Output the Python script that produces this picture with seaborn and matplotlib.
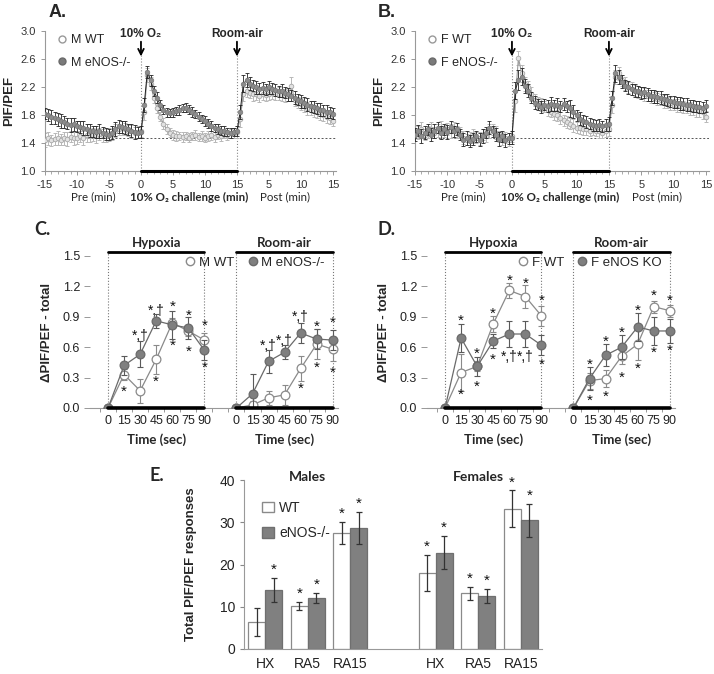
import numpy as np
import pandas as pd
import seaborn as sns
import matplotlib.pyplot as plt
from matplotlib.lines import Line2D
from matplotlib.patches import Patch

sns.set_style("ticks")
plt.rcParams['font.family'] = ['Liberation Sans', 'DejaVu Sans']

# ---------------- A / B : PIF/PEF time course (one value every 30 s) ----------------
minutes = np.arange(-15, 30.01, 0.5)   # -15..0 pre, 0..15 hypoxia, 15..30 room-air

m_wt = [1.45, 1.47, 1.44, 1.46, 1.48, 1.45, 1.47, 1.46, 1.49, 1.47,
        1.48, 1.50, 1.48, 1.51, 1.50, 1.52, 1.50, 1.53, 1.51, 1.50,
        1.52, 1.55, 1.58, 1.60, 1.62, 1.60, 1.58, 1.57, 1.55, 1.56, 1.57,
        1.85, 2.38, 2.25, 2.05, 1.90, 1.78, 1.68, 1.60, 1.55, 1.52,
        1.50, 1.50, 1.49, 1.50, 1.48, 1.50, 1.52, 1.49, 1.50, 1.48,
        1.50, 1.51, 1.49, 1.52, 1.50, 1.53, 1.52, 1.54, 1.55, 1.56,
        1.75, 2.10, 2.15, 2.12, 2.10, 2.10, 2.08, 2.10, 2.09, 2.10,
        2.12, 2.10, 2.11, 2.09, 2.08, 2.08, 2.22, 2.02, 1.98, 1.96,
        1.93, 1.90, 1.88, 1.86, 1.84, 1.82, 1.80, 1.78, 1.76, 1.72]
m_wt_err = [0.10, 0.09, 0.08, 0.09, 0.10, 0.08, 0.09, 0.10, 0.08, 0.09,
            0.09, 0.08, 0.10, 0.09, 0.08, 0.09, 0.10, 0.08, 0.09, 0.08,
            0.09, 0.10, 0.09, 0.08, 0.10, 0.09, 0.08, 0.09, 0.08, 0.09, 0.08,
            0.12, 0.10, 0.09, 0.08, 0.07, 0.07, 0.08, 0.07, 0.06, 0.07,
            0.07, 0.06, 0.07, 0.06, 0.07, 0.06, 0.07, 0.06, 0.07, 0.06,
            0.07, 0.06, 0.07, 0.06, 0.07, 0.06, 0.07, 0.06, 0.07, 0.08,
            0.12, 0.10, 0.09, 0.08, 0.09, 0.08, 0.09, 0.08, 0.09, 0.08,
            0.09, 0.08, 0.09, 0.08, 0.09, 0.08, 0.12, 0.09, 0.08, 0.09,
            0.08, 0.09, 0.08, 0.09, 0.08, 0.09, 0.08, 0.09, 0.08, 0.07]
m_ko = [1.82, 1.80, 1.78, 1.76, 1.74, 1.72, 1.70, 1.68, 1.66, 1.67,
        1.64, 1.63, 1.62, 1.60, 1.58, 1.57, 1.56, 1.58, 1.55, 1.53,
        1.52, 1.55, 1.60, 1.64, 1.63, 1.62, 1.60, 1.58, 1.56, 1.55, 1.56,
        1.95, 2.42, 2.30, 2.15, 2.05, 1.95, 1.88, 1.84, 1.83, 1.84,
        1.86, 1.88, 1.90, 1.91, 1.88, 1.85, 1.82, 1.78, 1.75, 1.72,
        1.68, 1.65, 1.62, 1.60, 1.58, 1.57, 1.56, 1.55, 1.56, 1.57,
        1.85, 2.25, 2.30, 2.25, 2.22, 2.20, 2.18, 2.19, 2.17, 2.20,
        2.18, 2.16, 2.14, 2.15, 2.12, 2.10, 2.08, 2.05, 2.02, 2.00,
        1.98, 1.95, 1.93, 1.92, 1.90, 1.88, 1.87, 1.85, 1.84, 1.82]
m_ko_err = [0.08, 0.09, 0.10, 0.08, 0.09, 0.10, 0.09, 0.08, 0.10, 0.09,
            0.08, 0.09, 0.10, 0.08, 0.09, 0.08, 0.09, 0.10, 0.08, 0.09,
            0.08, 0.09, 0.10, 0.09, 0.08, 0.09, 0.08, 0.09, 0.10, 0.08, 0.09,
            0.10, 0.09, 0.08, 0.07, 0.08, 0.07, 0.06, 0.07, 0.06, 0.07,
            0.06, 0.07, 0.06, 0.07, 0.06, 0.07, 0.06, 0.07, 0.06, 0.07,
            0.06, 0.07, 0.06, 0.07, 0.06, 0.07, 0.06, 0.07, 0.06, 0.07,
            0.10, 0.12, 0.10, 0.09, 0.08, 0.09, 0.08, 0.09, 0.08, 0.09,
            0.08, 0.09, 0.08, 0.09, 0.08, 0.09, 0.08, 0.09, 0.08, 0.09,
            0.08, 0.09, 0.08, 0.09, 0.08, 0.09, 0.08, 0.09, 0.08, 0.08]

f_wt = [1.58, 1.55, 1.60, 1.52, 1.56, 1.60, 1.55, 1.58, 1.62, 1.57,
        1.60, 1.58, 1.62, 1.56, 1.55, 1.48, 1.45, 1.47, 1.50, 1.48,
        1.47, 1.52, 1.50, 1.58, 1.60, 1.55, 1.50, 1.46, 1.48, 1.45, 1.50,
        2.00, 2.62, 2.40, 2.25, 2.20, 2.10, 2.02, 1.98, 1.95, 1.92,
        1.88, 1.85, 1.82, 1.80, 1.76, 1.73, 1.70, 1.68, 1.65, 1.62,
        1.62, 1.60, 1.60, 1.58, 1.60, 1.58, 1.57, 1.55, 1.58, 1.60,
        1.95, 2.35, 2.40, 2.30, 2.25, 2.20, 2.18, 2.15, 2.13, 2.12,
        2.10, 2.08, 2.07, 2.05, 2.03, 2.02, 2.00, 1.98, 1.97, 1.95,
        1.94, 1.93, 1.92, 1.91, 1.90, 1.88, 1.87, 1.86, 1.84, 1.78]
f_wt_err = [0.08, 0.09, 0.10, 0.08, 0.09, 0.10, 0.08, 0.09, 0.10, 0.08,
            0.09, 0.10, 0.08, 0.09, 0.08, 0.09, 0.08, 0.09, 0.10, 0.08,
            0.09, 0.08, 0.09, 0.10, 0.08, 0.09, 0.08, 0.09, 0.08, 0.09, 0.08,
            0.15, 0.10, 0.12, 0.10, 0.09, 0.10, 0.09, 0.08, 0.09, 0.08,
            0.09, 0.08, 0.09, 0.08, 0.09, 0.08, 0.09, 0.08, 0.09, 0.08,
            0.09, 0.08, 0.09, 0.08, 0.09, 0.08, 0.09, 0.08, 0.09, 0.10,
            0.12, 0.10, 0.09, 0.08, 0.09, 0.08, 0.09, 0.08, 0.09, 0.08,
            0.09, 0.08, 0.09, 0.08, 0.09, 0.08, 0.09, 0.08, 0.09, 0.08,
            0.09, 0.08, 0.09, 0.08, 0.09, 0.08, 0.09, 0.08, 0.09, 0.08]
f_ko = [1.52, 1.58, 1.50, 1.55, 1.60, 1.52, 1.58, 1.62, 1.55, 1.60,
        1.56, 1.63, 1.57, 1.60, 1.52, 1.45, 1.48, 1.43, 1.46, 1.50,
        1.45, 1.50, 1.55, 1.62, 1.57, 1.52, 1.46, 1.50, 1.44, 1.47, 1.48,
        2.15, 2.30, 2.35, 2.22, 2.15, 2.05, 1.98, 1.95, 1.92, 1.95,
        1.93, 1.96, 1.94, 1.95, 1.92, 1.96, 1.93, 1.90, 1.85, 1.80,
        1.75, 1.72, 1.70, 1.68, 1.66, 1.65, 1.66, 1.64, 1.66, 1.68,
        2.05, 2.40, 2.35, 2.28, 2.22, 2.20, 2.17, 2.15, 2.14, 2.12,
        2.13, 2.10, 2.08, 2.07, 2.06, 2.05, 2.03, 2.02, 2.00, 1.99,
        1.98, 1.97, 1.96, 1.95, 1.94, 1.93, 1.92, 1.92, 1.91, 1.93]
f_ko_err = [0.09, 0.08, 0.10, 0.09, 0.08, 0.09, 0.10, 0.08, 0.09, 0.08,
            0.10, 0.09, 0.08, 0.09, 0.08, 0.09, 0.10, 0.08, 0.09, 0.08,
            0.09, 0.10, 0.08, 0.09, 0.08, 0.09, 0.10, 0.08, 0.09, 0.08, 0.09,
            0.12, 0.14, 0.12, 0.10, 0.09, 0.08, 0.09, 0.08, 0.09, 0.08,
            0.09, 0.10, 0.08, 0.09, 0.08, 0.09, 0.08, 0.12, 0.09, 0.08,
            0.09, 0.08, 0.09, 0.08, 0.09, 0.08, 0.09, 0.08, 0.09, 0.10,
            0.10, 0.12, 0.10, 0.09, 0.08, 0.09, 0.08, 0.09, 0.08, 0.09,
            0.08, 0.09, 0.08, 0.09, 0.08, 0.09, 0.08, 0.09, 0.08, 0.09,
            0.08, 0.09, 0.08, 0.09, 0.08, 0.09, 0.08, 0.09, 0.08, 0.09]

trace_ticks = ['-15', '-10', '-5', '0', '5', '10', '15', '5', '10', '15']

# ---------------- C / D : delta PIF/PEF over first 90 s ----------------
seconds = [0, 15, 30, 45, 60, 75, 90]

c_hx_wt = [0.0, 0.33, 0.17, 0.48, 0.84, 0.76, 0.67]
c_hx_wt_err = [0.0, 0.05, 0.12, 0.14, 0.05, 0.05, 0.07]
c_hx_ko = [0.0, 0.42, 0.53, 0.86, 0.82, 0.79, 0.57]
c_hx_ko_err = [0.0, 0.09, 0.13, 0.07, 0.14, 0.11, 0.10]
c_ra_wt = [0.0, 0.03, 0.10, 0.13, 0.39, 0.63, 0.58]
c_ra_wt_err = [0.0, 0.04, 0.07, 0.10, 0.12, 0.15, 0.12]
c_ra_ko = [0.0, 0.14, 0.46, 0.55, 0.74, 0.68, 0.67]
c_ra_ko_err = [0.0, 0.20, 0.11, 0.07, 0.10, 0.10, 0.10]
# (section, time in s, y, text)
c_marks = [('hx', 15, 0.20, '*'), ('hx', 30, 0.75, '*,†'), ('hx', 45, 1.00, '*,†'),
           ('hx', 45, 0.30, '*'), ('hx', 60, 1.04, '*'), ('hx', 60, 0.65, '*'),
           ('hx', 75, 0.95, '*'), ('hx', 75, 0.59, '*'), ('hx', 90, 0.85, '*'),
           ('hx', 90, 0.44, '*'), ('ra', 30, 0.65, '*,†'), ('ra', 45, 0.70, '*,†'),
           ('ra', 60, 0.94, '*,†'), ('ra', 60, 0.23, '*'), ('ra', 75, 0.84, '*'),
           ('ra', 75, 0.44, '*'), ('ra', 90, 0.88, '*'), ('ra', 90, 0.39, '*')]

d_hx_wt = [0.0, 0.35, 0.41, 0.83, 1.16, 1.10, 0.91]
d_hx_wt_err = [0.0, 0.18, 0.05, 0.08, 0.07, 0.11, 0.10]
d_hx_ko = [0.0, 0.69, 0.41, 0.66, 0.73, 0.73, 0.62]
d_hx_ko_err = [0.0, 0.14, 0.09, 0.07, 0.13, 0.13, 0.10]
d_ra_wt = [0.0, 0.27, 0.29, 0.51, 0.63, 1.00, 0.96]
d_ra_wt_err = [0.0, 0.08, 0.08, 0.08, 0.16, 0.06, 0.06]
d_ra_ko = [0.0, 0.29, 0.52, 0.60, 0.80, 0.76, 0.76]
d_ra_ko_err = [0.0, 0.11, 0.11, 0.12, 0.14, 0.14, 0.12]
d_marks = [('hx', 15, 0.90, '*'), ('hx', 15, 0.17, '*'), ('hx', 30, 0.57, '*'),
           ('hx', 30, 0.25, '*'), ('hx', 45, 0.97, '*'), ('hx', 45, 0.52, '*'),
           ('hx', 60, 1.30, '*'), ('hx', 60, 0.54, '*,†'), ('hx', 75, 1.27, '*'),
           ('hx', 75, 0.54, '*,†'), ('hx', 90, 1.10, '*'), ('hx', 90, 0.47, '*'),
           ('ra', 15, 0.47, '*'), ('ra', 15, 0.11, '*'), ('ra', 30, 0.69, '*'),
           ('ra', 30, 0.15, '*'), ('ra', 45, 0.78, '*'), ('ra', 45, 0.34, '*'),
           ('ra', 60, 1.00, '*'), ('ra', 60, 0.43, '*'), ('ra', 75, 1.15, '*'),
           ('ra', 75, 0.58, '*'), ('ra', 90, 1.10, '*'), ('ra', 90, 0.60, '*')]

# ---------------- E : total responses ----------------
phases = ['HX', 'RA5', 'RA15']
male_wt = [6.4, 10.2, 27.5]
male_wt_err = [3.4, 0.9, 2.65]
male_ko = [14.0, 12.1, 28.6]
male_ko_err = [2.8, 1.15, 3.85]
female_wt = [18.0, 13.2, 33.2]
female_wt_err = [4.3, 1.55, 4.35]
female_ko = [22.8, 12.5, 30.5]
female_ko_err = [3.95, 1.65, 3.9]
male_wt_star = ['', '*', '*']
male_ko_star = ['*', '*', '*']
female_wt_star = ['*', '*', '*']
female_ko_star = ['*', '*', '*']

CAL = ['Lato', 'DejaVu Sans']

fig = plt.figure(figsize=(7.14, 6.74), dpi=100)


def trace_panel(rect, wt, wt_err, ko, ko_err, names):
    ax = fig.add_axes(rect)
    ax.errorbar(minutes, wt, yerr=wt_err, fmt='none', ecolor='#b8b8b8',
                elinewidth=0.7, capsize=1.5, capthick=0.7, zorder=2)
    sns.lineplot(x=minutes, y=wt, ax=ax, estimator=None, color='#9a9a9a', lw=0.8,
                 marker='o', markersize=3.3, markerfacecolor='#e2e2e2',
                 markeredgecolor='#a8a8a8', markeredgewidth=0.6, zorder=3)
    ax.errorbar(minutes, ko, yerr=ko_err, fmt='none', ecolor='#222222',
                elinewidth=0.6, capsize=1.5, capthick=0.6, zorder=4)
    sns.lineplot(x=minutes, y=ko, ax=ax, estimator=None, color='#222222', lw=0.7,
                 marker='o', markersize=3.3, markerfacecolor='#8c8c8c',
                 markeredgecolor='#777777', markeredgewidth=0.5, zorder=5)
    ax.set_xlim(-15, 30.5)
    ax.set_ylim(1.0, 3.0)
    ax.set_yticks([1.0, 1.4, 1.8, 2.2, 2.6, 3.0])
    ax.set_yticklabels(['1.0', '1.4', '1.8', '2.2', '2.6', '3.0'])
    ax.set_xticks(range(-15, 31, 5))
    ax.set_xticklabels(trace_ticks)
    ax.set_xticks(range(-15, 31), minor=True)
    ax.tick_params(labelsize=8, colors='#333333', length=3, width=0.6)
    ax.tick_params(axis='x', which='minor', length=2, width=0.5, color='#888888')
    ax.tick_params(axis='both', which='major', color='#888888')
    sns.despine(ax=ax)
    for s in ['left', 'bottom']:
        ax.spines[s].set_color('#999999')
        ax.spines[s].set_linewidth(0.8)
    ax.plot([-15, 30.5], [1.48, 1.48], ls=(0, (2, 2)), color='#555555', lw=0.7, zorder=1)
    for x in (0, 15):
        ax.plot([x, x], [1.0, 2.66], ls=':', color='#888888', lw=0.8, zorder=1)
    ax.plot([0, 15], [1.0, 1.0], color='black', lw=2.2, clip_on=False, zorder=6)
    for x, txt in ((0, '10% O₂'), (15, 'Room-air')):
        ax.annotate('', xy=(x, 2.6), xytext=(x, 2.89),
                    arrowprops=dict(arrowstyle='->', color='black', lw=1.3))
        ax.text(x, 2.96, txt, ha='center', va='center', fontsize=8.5,
                fontweight='bold')
    ax.set_ylabel('PIF/PEF', fontsize=9.5, fontweight='bold')
    ax.yaxis.set_label_coords(-0.103, 0.5)
    for x, txt, bold in ((-7.5, 'Pre (min)', False), (7.5, '10% O₂ challenge (min)', True),
                         (22.5, 'Post (min)', False)):
        ax.annotate(txt, xy=(x, 0), xycoords=('data', 'axes fraction'),
                    xytext=(0, -26), textcoords='offset pixels', ha='center',
                    va='center', fontsize=8.3, family=CAL,
                    fontweight='bold' if bold else 'normal')
    handles = [Line2D([], [], ls='none', marker='o', ms=5, mfc='white', mec='#999999'),
               Line2D([], [], ls='none', marker='o', ms=5, mfc='#7a7a7a', mec='#6a6a6a')]
    ax.legend(handles, names, loc='upper left', bbox_to_anchor=(0.0, 1.06),
              frameon=False, fontsize=9, handlelength=0.9, handletextpad=0.3,
              labelspacing=0.85)
    return ax


def delta_panel(rect, hx_wt, hx_wt_err, hx_ko, hx_ko_err,
                ra_wt, ra_wt_err, ra_ko, ra_ko_err, marks, names):
    ax = fig.add_axes(rect)
    offset = {'hx': 0, 'ra': 8}
    rows = []
    for sec_name, geno, vals, errs in (('hx', 'WT', hx_wt, hx_wt_err), ('hx', 'KO', hx_ko, hx_ko_err),
                                       ('ra', 'WT', ra_wt, ra_wt_err), ('ra', 'KO', ra_ko, ra_ko_err)):
        for s, v, e in zip(seconds, vals, errs):
            rows.append({'pos': s / 15 + offset[sec_name], 'val': v, 'err': e,
                         'section': sec_name, 'geno': geno})
    df = pd.DataFrame(rows)
    style = {'WT': dict(color='#8a8a8a', markerfacecolor='white', markeredgecolor='#8a8a8a', ecolor='#8a8a8a'),
             'KO': dict(color='#6a6a6a', markerfacecolor='#7f7f7f', markeredgecolor='#6a6a6a', ecolor='#5a5a5a')}
    for z, geno in enumerate(['WT', 'KO']):
        sub = df[df['geno'] == geno]
        st = style[geno]
        ax.errorbar(sub['pos'], sub['val'], yerr=sub['err'], fmt='none', ecolor=st['ecolor'],
                    elinewidth=0.8, capsize=2, capthick=0.8, zorder=2 + 2 * z)
        sns.lineplot(data=sub, x='pos', y='val', units='section', estimator=None, ax=ax,
                     color=st['color'], lw=0.9, marker='o', markersize=6.3,
                     markerfacecolor=st['markerfacecolor'],
                     markeredgecolor=st['markeredgecolor'], markeredgewidth=0.9,
                     zorder=3 + 2 * z)
    ax.set_xlim(-1.1, 14.3)
    ax.set_ylim(0, 1.5)
    ax.set_yticks([0, 0.3, 0.6, 0.9, 1.2, 1.5])
    ax.set_yticklabels(['0.0', '0.3', '0.6', '0.9', '1.2', '1.5'])
    pos = [s / 15 for s in seconds] + [s / 15 + 8 for s in seconds]
    ax.set_xticks(pos)
    ax.set_xticklabels([str(s) for s in seconds] * 2)
    ax.set_xticks([k + 0.5 for k in range(-1, 14)], minor=True)
    ax.tick_params(axis='x', which='major', length=0, labelsize=9, pad=5, colors='#222222')
    ax.tick_params(axis='x', which='minor', length=3, width=0.6, color='#888888')
    ax.tick_params(axis='y', labelsize=9, length=4, width=0.6, color='#888888', colors='#222222')
    sns.despine(ax=ax, left=True)
    ax.spines['bottom'].set_color('#999999')
    ax.spines['bottom'].set_linewidth(0.8)
    ax.set_xlabel('')
    ax.set_ylabel('ΔPIF/PEF - total', fontsize=9.5, fontweight='bold')
    ax.yaxis.set_label_coords(-0.15, 0.5)
    for start, title in ((0, 'Hypoxia'), (8, 'Room-air')):
        ax.plot([start, start + 6], [0, 0], color='black', lw=2.6, clip_on=False, zorder=6)
        ax.plot([start, start + 6], [1.54, 1.54], color='black', lw=2.0, clip_on=False)
        for x in (start, start + 6):
            ax.plot([x, x], [0, 1.54], ls=':', color='#777777', lw=0.8, clip_on=False, zorder=1)
        ax.text(start + 3, 1.63, title, ha='center', va='center', fontsize=9.5,
                fontweight='bold', family=CAL)
        ax.annotate('Time (sec)', xy=(start + 3, 0), xycoords=('data', 'axes fraction'),
                    xytext=(0, -32), textcoords='offset pixels', ha='center', va='center',
                    fontsize=9.5, fontweight='bold', family=CAL)
    for sec_name, s, y, txt in marks:
        ax.text(s / 15 + offset[sec_name], y - 0.04, txt, ha='center', va='center',
                fontsize=11 if txt == '*' else 10, color='#111111')
    handles = [Line2D([], [], ls='none', marker='o', ms=6, mfc='white', mec='#8a8a8a'),
               Line2D([], [], ls='none', marker='o', ms=6, mfc='#7f7f7f', mec='#6a6a6a')]
    ax.legend(handles, names, ncol=2, loc='center right', bbox_to_anchor=(0.985, 0.955),
              frameon=False, fontsize=9.5, handlelength=0.8, handletextpad=0.25,
              columnspacing=1.0, borderpad=0.2)
    return ax


trace_panel([0.063, 0.746, 0.4078, 0.2077], m_wt, m_wt_err, m_ko, m_ko_err,
            ['M WT', 'M eNOS-/-'])
trace_panel([0.5812, 0.746, 0.412, 0.2077], f_wt, f_wt_err, f_ko, f_ko_err,
            ['F WT', 'F eNOS-/-'])
delta_panel([0.1266, 0.3947, 0.3462, 0.2255], c_hx_wt, c_hx_wt_err, c_hx_ko, c_hx_ko_err,
            c_ra_wt, c_ra_wt_err, c_ra_ko, c_ra_ko_err, c_marks, ['M WT', 'M eNOS-/-'])
delta_panel([0.5986, 0.3947, 0.3462, 0.2255], d_hx_wt, d_hx_wt_err, d_hx_ko, d_hx_ko_err,
            d_ra_wt, d_ra_wt_err, d_ra_ko, d_ra_ko_err, d_marks, ['F WT', 'F eNOS KO'])

# ---- E: grouped bars (blank slot between males and females) ----
axe = fig.add_axes([0.3417, 0.0371, 0.4174, 0.2507])
order = ['M HX', 'M RA5', 'M RA15', ' ', 'F HX', 'F RA5', 'F RA15']
rows = []
for sex, wt, wte, ko, koe, ws, ks in (('M', male_wt, male_wt_err, male_ko, male_ko_err, male_wt_star, male_ko_star),
                                      ('F', female_wt, female_wt_err, female_ko, female_ko_err, female_wt_star, female_ko_star)):
    for p, a, ae, b, be, sa, sb in zip(phases, wt, wte, ko, koe, ws, ks):
        rows.append({'group': f'{sex} {p}', 'geno': 'WT', 'val': a, 'err': ae, 'star': sa})
        rows.append({'group': f'{sex} {p}', 'geno': 'eNOS-/-', 'val': b, 'err': be, 'star': sb})
df_e = pd.DataFrame(rows)
sns.barplot(data=df_e, x='group', y='val', hue='geno', order=order,
            hue_order=['WT', 'eNOS-/-'], palette={'WT': 'white', 'eNOS-/-': '#808080'},
            errorbar=None, width=0.8, linewidth=0.9, edgecolor='#8a8a8a', legend=False, ax=axe)
for patch in axe.containers[1]:
    patch.set_edgecolor('#6f6f6f')
for _, r in df_e.iterrows():
    x = order.index(r['group']) + (-0.2 if r['geno'] == 'WT' else 0.2)
    axe.errorbar(x, r['val'], yerr=r['err'], fmt='none', ecolor='#333333',
                 elinewidth=0.9, capsize=2.5, capthick=0.9, zorder=5)
    if r['star']:
        axe.text(x, r['val'] + r['err'] + 1.9, r['star'], ha='center', va='center',
                 fontsize=11, color='#111111')
axe.set_ylim(0, 40)
axe.set_xlim(-0.5, 6.5)
axe.set_yticks([0, 10, 20, 30, 40])
axe.set_xticks([0, 1, 2, 4, 5, 6])
axe.set_xticklabels(phases * 2)
axe.tick_params(axis='x', length=0, labelsize=10, pad=6, colors='#222222')
axe.tick_params(axis='y', labelsize=10, length=3, color='#888888', colors='#222222')
sns.despine(ax=axe)
for s in ['left', 'bottom']:
    axe.spines[s].set_color('#999999')
    axe.spines[s].set_linewidth(0.8)
axe.set_xlabel('')
axe.set_ylabel('Total PIF/PEF responses', fontsize=9.5, fontweight='bold')
axe.yaxis.set_label_coords(-0.156, 0.5)
axe.text(1, 40.7, 'Males', ha='center', va='center', fontsize=10, fontweight='bold', family=CAL)
axe.text(5, 40.7, 'Females', ha='center', va='center', fontsize=10, fontweight='bold', family=CAL)
axe.legend([Patch(facecolor='white', edgecolor='#8a8a8a'), Patch(facecolor='#808080', edgecolor='#6f6f6f')],
           ['WT', 'eNOS-/-'], loc='upper left', bbox_to_anchor=(0.02, 0.95), frameon=False,
           fontsize=10, handlelength=0.8, handleheight=0.8, handletextpad=0.4, labelspacing=0.8)

# panel letters
for x, y, txt, fam in ((0.080, 0.981, 'A.', ['Liberation Sans']), (0.542, 0.981, 'B.', ['Liberation Sans']),
                       (0.060, 0.659, 'C.', CAL), (0.542, 0.659, 'D.', CAL), (0.220, 0.295, 'E.', CAL)):
    fig.text(x, y, txt, ha='center', va='center', fontsize=13, fontweight='bold', family=fam)

fig.savefig('out.png', dpi=100)
